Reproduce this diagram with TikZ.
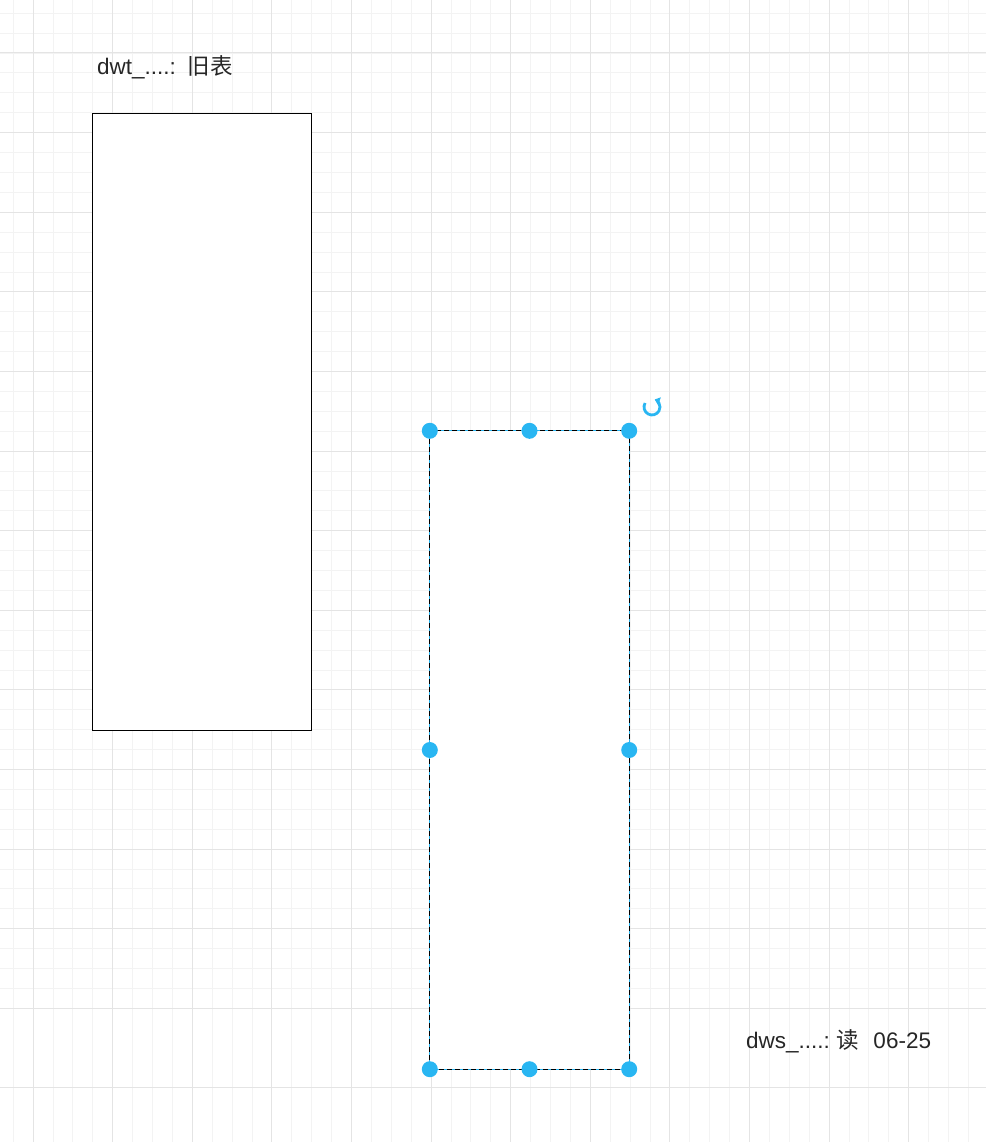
\documentclass[tikz,border=0pt]{standalone}
\usepackage{fontspec}
\setmainfont{Liberation Sans}
\newfontfamily\cjk{Noto Sans CJK SC}
\usetikzlibrary{arrows.meta}
\definecolor{handle}{HTML}{29B6F2}
\definecolor{gridminor}{HTML}{F3F3F3}
\definecolor{gridmajor}{HTML}{E4E4E4}
\tikzset{
  minorline/.style={draw=gridminor, line width=0.8pt},
  majorline/.style={draw=gridmajor, line width=1pt},
  tablebox/.style={draw=black, line width=1.2pt, fill=white, inner sep=0pt},
  handledot/.style={circle, fill=handle, inner sep=0pt, minimum size=16pt},
  label/.style={font=\fontsize{22.5}{26}\selectfont, text=black!85, inner sep=0pt, anchor=base west}
}
\begin{document}
\begin{tikzpicture}[x=1pt,y=-1pt]
\useasboundingbox (0,0) rectangle (986,1142);
\fill[white] (0,0) rectangle (986,1142);
% grid
\foreach \k in {0,...,50}{
  \pgfmathsetmacro{\gx}{13.1+19.9*\k}
  \pgfmathsetmacro{\gy}{13.2+19.9*\k}
  \path[minorline] (\gx,0) -- (\gx,1142);
  \path[minorline] (0,\gy) -- (986,\gy);
}
\foreach \k in {0,...,13}{
  \pgfmathsetmacro{\gx}{33+79.6*\k}
  \pgfmathsetmacro{\gy}{53+79.6*\k}
  \path[majorline] (\gx,0) -- (\gx,1142);
  \path[majorline] (0,\gy) -- (986,\gy);
}
% old table
\node[tablebox, minimum width=219pt, minimum height=617pt] (old) at (202,422) {};
\node[label] (oldlabel) at (97,75) {dwt\_....:\hspace{12pt}{\cjk 旧表}};
% selected shape
\node[inner sep=0pt, minimum width=199pt, minimum height=638pt, fill=white] (sel) at (529.5,750) {};
\draw[handle, line width=1.3pt] (sel.north west) rectangle (sel.south east);
\draw[black, line width=1.3pt, dash pattern=on 5pt off 3pt] (sel.north west) rectangle (sel.south east);
\node[handledot] (h1) at (sel.north west) {};
\node[handledot] (h2) at (sel.north) {};
\node[handledot] (h3) at (sel.north east) {};
\node[handledot] (h4) at (sel.west) {};
\node[handledot] (h5) at (sel.east) {};
\node[handledot] (h6) at (sel.south west) {};
\node[handledot] (h7) at (sel.south) {};
\node[handledot] (h8) at (sel.south east) {};
% rotation handle
\coordinate (rot) at (652,407);
\draw[handle, line width=2.8pt, -{Triangle[length=5pt,width=8pt]}] ([shift={(-150:8)}]rot) arc[start angle=-150, end angle=-430, radius=8];
\node[label] (newlabel) at (746,1048) {dws\_....:\hspace{7pt}{\cjk 读}\hspace{14pt}06-25};
\end{tikzpicture}
\end{document}
